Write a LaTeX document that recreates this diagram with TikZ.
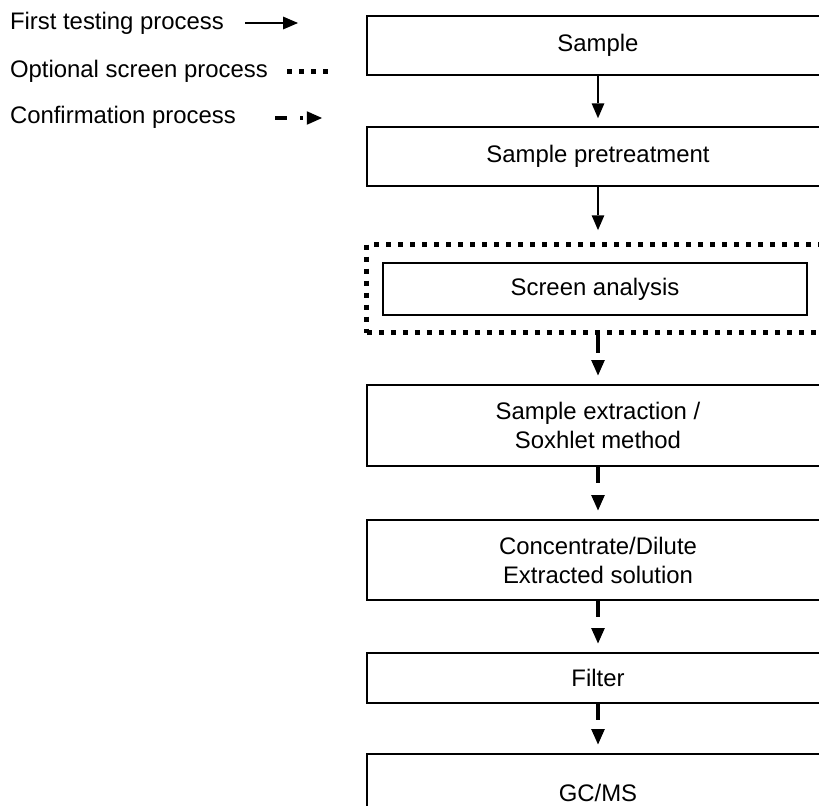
\documentclass[tikz,border=0pt]{standalone}
\usepackage{fontspec}
\setmainfont{Liberation Sans}
\usetikzlibrary{arrows.meta}

\begin{document}
\begin{tikzpicture}
	[x=0.025cm, y=-0.025cm,
	every node/.style={font=\fontsize{17}{20.6}\selectfont, outer sep=0pt},
	stepbox/.style={draw, line width=0.035cm, rectangle, align=center,
		minimum width=11.55cm, minimum height=1.475cm, inner sep=0pt},
	dotline/.style={line width=0.125cm, dash pattern=on 0.125cm off 0.175cm},
	screenbox/.style={draw, dotline, rectangle,
		minimum width=13.3cm, minimum height=2.2cm, inner sep=0pt},
	legendtext/.style={anchor=base west, inner sep=0pt},
	solidarrow/.style={line width=0.04cm, shorten >=0.22cm,
		-{Triangle[length=0.37cm, width=0.32cm, line width=0pt]}},
	dasharrow/.style={line width=0.1cm, dash pattern=on 0.42cm off 1cm, shorten >=0.24cm,
		-{Triangle[length=0.38cm, width=0.34cm, line width=0pt]}}]
	
	\useasboundingbox (0,0) rectangle (819,805);
	\clip (0,0) rectangle (819,805);
	
	% legend
	\node [legendtext] (lfirst) at (10,29) {First testing process};
	\node [legendtext] (loptional) at (10,77) {Optional screen process};
	\node [legendtext] (lconfirm) at (10,123) {Confirmation process};
	\coordinate (fa) at (245,23);
	\coordinate (fb) at (298,23);
	\coordinate (oa) at (287,71);
	\coordinate (ob) at (331,71);
	\coordinate (ca) at (275,118);
	\coordinate (cb) at (322,118);
	\draw [solidarrow, shorten >=0pt] (fa) -- (fb);
	\draw [dotline] (oa) -- (ob);
	\draw [dasharrow, dash pattern=on 0.3cm off 0.325cm on 0.08cm off 1cm, shorten >=0pt] (ca) -- (cb);
	
	% flow
	\node [stepbox] (sample) at (598,45.5) {Sample};
	\node [stepbox] (pretreat) at (598,156.5) {Sample pretreatment};
	\node [screenbox] (screenbox) at (633,288.5) {};
	\node [stepbox, minimum width=10.6cm, minimum height=1.3cm] (screen) at (595,289) {Screen analysis};
	\node [stepbox, minimum height=2.025cm] (extract) at (598,425.5) {Sample extraction /\\Soxhlet method};
	\node [stepbox, minimum height=2cm] (concentrate) at (598,560) {Concentrate/Dilute\\Extracted solution};
	\node [stepbox, minimum height=1.25cm] (filter) at (598,678) {Filter};
	\node [stepbox, minimum height=1.95cm] (gcms) at (598,793) {GC/MS};
	
	\draw [solidarrow] (sample.south) -- (pretreat.north);
	\draw [solidarrow, shorten >=0.36cm] (pretreat.south) -- (pretreat.south |- screenbox.north);
	\draw [dasharrow, dash pattern=on 0.5cm off 1cm] (screenbox.south -| extract.north) -- (extract.north);
	\draw [dasharrow] (extract.south) -- (concentrate.north);
	\draw [dasharrow] (concentrate.south) -- (filter.north);
	\draw [dasharrow] (filter.south) -- (gcms.north);
\end{tikzpicture}
\end{document}
